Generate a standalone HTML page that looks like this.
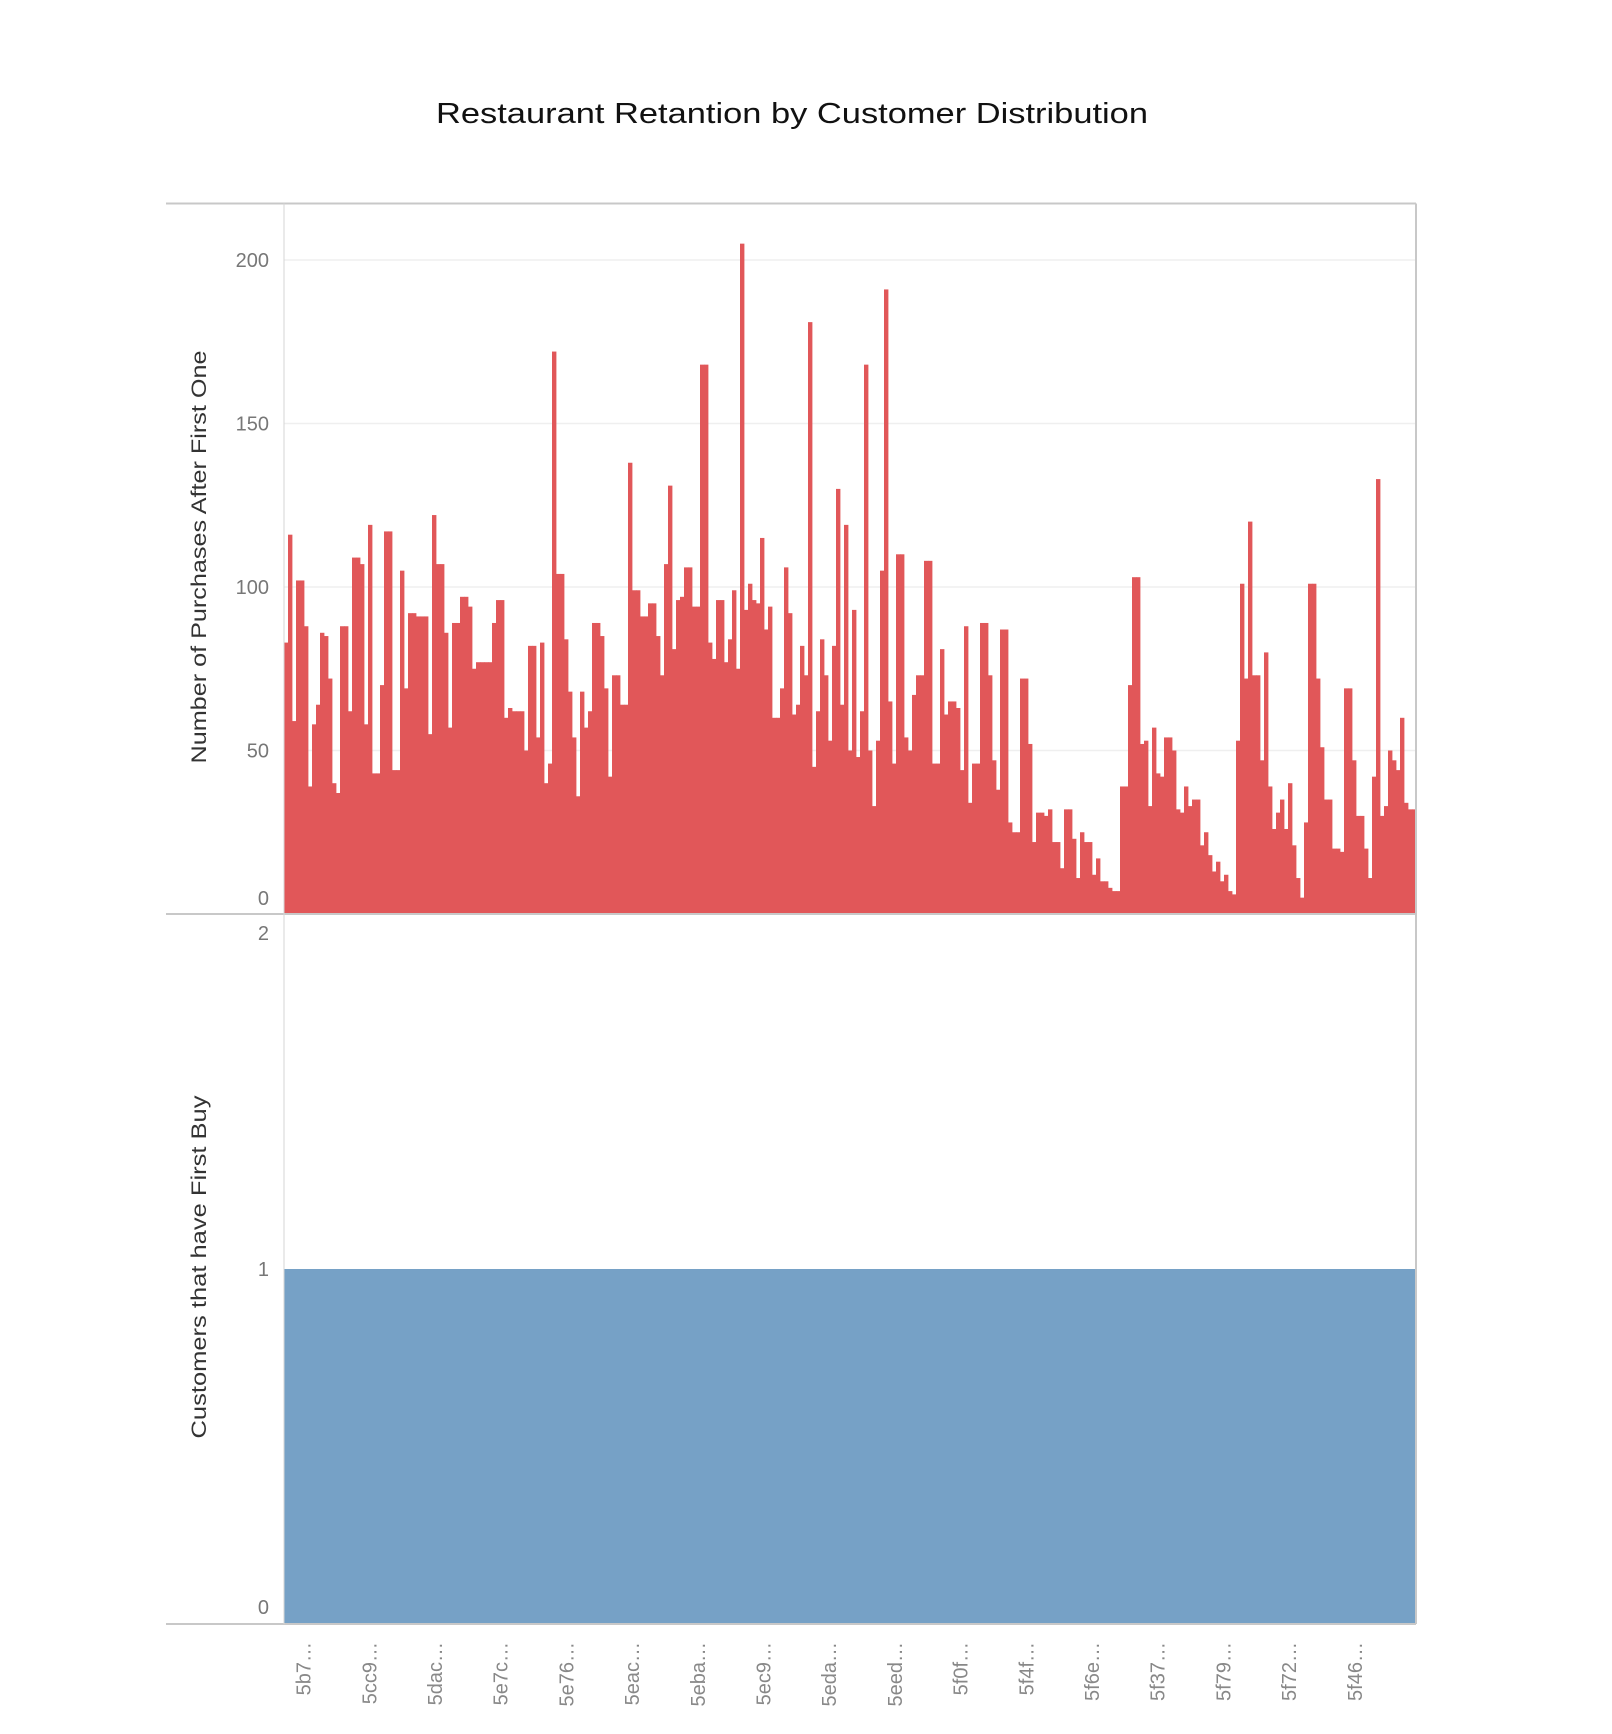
<!DOCTYPE html>
<html><head><meta charset="utf-8"><style>html,body{margin:0;padding:0;background:#fff}svg{display:block}</style></head>
<body>
<svg id="chart" width="1612" height="1734" viewBox="0 0 1612 1734" xmlns="http://www.w3.org/2000/svg" font-family="Liberation Sans, sans-serif">
<text x="792" y="123" text-anchor="middle" font-size="29" font-weight="500" fill="#111" textLength="712" lengthAdjust="spacingAndGlyphs">Restaurant Retantion by Customer Distribution</text>
<g id="grid"></g>
<g id="bars"></g>
<rect id="blue" fill="#76a1c6"/>
<g id="frame"></g>
<g id="yticks" font-size="20" fill="#777" text-anchor="end"></g>
<g id="xticks" font-size="20" fill="#888"></g>
<text transform="translate(206,557) rotate(-90)" text-anchor="middle" font-size="21" fill="#333" textLength="413" lengthAdjust="spacingAndGlyphs">Number of Purchases After First One</text>
<text transform="translate(206,1267) rotate(-90)" text-anchor="middle" font-size="21" fill="#333" textLength="343" lengthAdjust="spacingAndGlyphs">Customers that have First Buy</text>
</svg>
<script>
const purchases = [83,116,59,102,102,88,39,58,64,86,85,72,40,37,88,88,62,109,109,107,58,119,43,43,70,117,117,44,44,105,69,92,92,91,91,91,55,122,107,107,86,57,89,89,97,97,94,75,77,77,77,77,89,96,96,60,63,62,62,62,50,82,82,54,83,40,46,172,104,104,84,68,
54,36,68,57,62,89,89,85,69,42,73,73,64,64,138,99,99,91,91,95,95,85,73,107,131,81,96,97,106,106,94,94,168,168,83,78,96,96,77,84,99,75,205,93,101,96,95,115,87,94,60,60,69,106,92,61,64,82,73,181,45,62,84,73,53,82,130,64,119,50,93,48,
62,168,50,33,53,105,191,65,46,110,110,54,50,67,73,73,108,108,46,46,81,61,65,65,63,44,88,34,46,46,89,89,73,47,38,87,87,28,25,25,72,72,52,22,31,31,30,32,22,22,14,32,32,23,11,25,22,22,12,17,10,10,8,7,7,39,39,70,103,103,52,
53,33,57,43,42,54,54,50,32,31,39,33,35,35,21,25,18,13,16,10,12,7,6,53,101,72,120,73,73,47,80,39,26,31,35,26,40,21,11,5,28,101,101,72,51,35,35,20,20,19,69,69,47,30,30,20,11,42,133,30,33,50,47,44,60,34,32,32];
const firstBuy = [1];
const topTicks = [0,50,100,150,200];
const bottomTicks = [0,1,2];
const tickLabels = ["5b7…","5cc9…","5dac…","5e7c…","5e76…","5eac…","5eba…","5ec9…","5eda…","5eed…","5f0f…","5f4f…","5f6e…","5f37…","5f79…","5f72…","5f46…"];

const NS="http://www.w3.org/2000/svg";
const X0=284, X1=1416, TOP=203.5, MID=914, BOT=1624;
const yTop = v => MID - v*3.27;
const yBot = v => BOT - v*(BOT-MID)/2;
const bw = (X1-X0)/purchases.length;
const xBar = i => X0 + i*bw;
function mk(tag, parent){const e=document.createElementNS(NS,tag);document.getElementById(parent).appendChild(e);return e;}

topTicks.forEach(t=>{
  if(t>0){const l=mk('line','grid');
    
    
    l.setAttribute('x1',X0);l.setAttribute('x2',X1);l.setAttribute('y1',yTop(t));l.setAttribute('y2',yTop(t));
    l.setAttribute('stroke','#efefef');l.setAttribute('stroke-width','1.5');}
  const tx=mk('text','yticks');
  
  
  tx.setAttribute('x',269);tx.setAttribute('y',t===0? yTop(t)-9 : yTop(t)+7);tx.textContent=t;
});
bottomTicks.forEach(t=>{
  const tx=mk('text','yticks');
  
  
  let y=yBot(t)+7; if(t===2) y=yBot(t)+26; if(t===0) y=yBot(t)-10;
  tx.setAttribute('x',269);tx.setAttribute('y',y);tx.textContent=t;
});
purchases.forEach((v,i)=>{
  const r=mk('rect','bars');
  
  
  r.setAttribute('x',xBar(i));r.setAttribute('width',bw+0.4);
  r.setAttribute('y',yTop(v));r.setAttribute('height',MID-yTop(v));r.setAttribute('fill','#e15759');
});
const b=document.getElementById('blue');
b.setAttribute('x',X0);b.setAttribute('width',X1-X0);b.setAttribute('y',yBot(firstBuy[0]));b.setAttribute('height',BOT-yBot(firstBuy[0]));

[[166,TOP,X1,TOP],[X1,TOP,X1,BOT],[166,MID,X1,MID],[166,BOT,X1,BOT],[X0,TOP,X0,BOT]].forEach((c,k)=>{
  const l=mk('line','frame');
  
  
  l.setAttribute('x1',c[0]);l.setAttribute('y1',c[1]);l.setAttribute('x2',c[2]);l.setAttribute('y2',c[3]);
  l.setAttribute('stroke', k===4?'#d6d6d6':'#c8c8c8');l.setAttribute('stroke-width',k===4?1:2);
});
tickLabels.forEach((s,i)=>{
  const t=mk('text','xticks');
  
  
  const cx=303.6+i*65.7;
  t.setAttribute('transform','translate('+(cx+7)+',1642) rotate(-90)');
  t.setAttribute('text-anchor','end');
  t.textContent=s;
});
</script>
</body></html>
